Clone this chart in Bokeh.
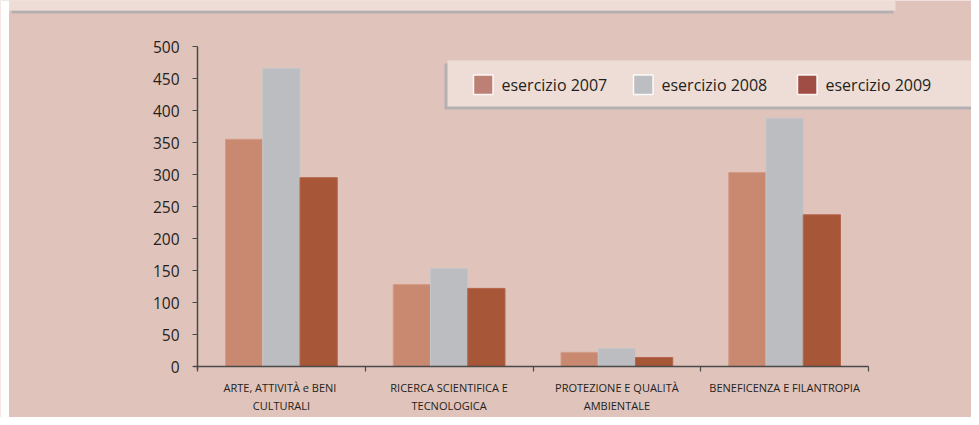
from bokeh.plotting import figure
from bokeh.models import Range1d, FixedTicker, BoxAnnotation, Label, ColumnDataSource
from bokeh.transform import dodge
from bokeh.embed import file_html
from bokeh.resources import INLINE

# ---- data ----
categories = [
    "ARTE, ATTIVITÀ  e BENI\nCULTURALI",
    "RICERCA SCIENTIFICA E\nTECNOLOGICA",
    "PROTEZIONE E QUALITÀ\nAMBIENTALE",
    "BENEFICENZA E FILANTROPIA",
]
series = ["esercizio 2007", "esercizio 2008", "esercizio 2009"]
v2007 = [355, 128, 22, 303]
v2008 = [466, 153, 28, 388]
v2009 = [295, 122, 14, 237]
y_ticks = [0, 50, 100, 150, 200, 250, 300, 350, 400, 450, 500]
y_max = 500

bar_colors = ["#C98870", "#BCBDC1", "#A85638"]
bar_edges = ["#D39B86", "#C6C7CA", "#B4654A"]
swatch_colors = ["#BD8075", "#BDBEC2", "#A04E45"]

BG = "#E0C3BB"
LIGHT = "#EDDDD6"
SHADOW = "#B4B0B2"
TXT = "#231F20"
AXIS = "#4A4A4A"
FONT = "Open Sans"

n = len(categories)
centers = [i + 0.5 for i in range(n)]
src = ColumnDataSource(dict(x=centers, v2007=v2007, v2008=v2008, v2009=v2009))

# ---- layout (pixels) ----
W, H = 971, 417
PL, PR, PT, PB = 197, 868, 46, 366   # plotting area where axes sit
sx = (PR - PL) / n
sy = (PB - PT) / y_max
x_range = Range1d(-PL / sx, (W - PL) / sx)
y_range = Range1d(-(H - PB) / sy, PB / sy)

p = figure(width=W, height=H, x_range=x_range, y_range=y_range,
           output_backend="svg", toolbar_location=None,
           min_border_left=0, min_border_right=0, min_border_top=0, min_border_bottom=0)
p.background_fill_color = BG
p.border_fill_color = BG
p.outline_line_color = None
p.xgrid.visible = False
p.ygrid.visible = False


def box(l, r, t, b, color, **kw):
    return BoxAnnotation(left=l, right=r, top=t, bottom=b, left_units="canvas", right_units="canvas",
                         top_units="canvas", bottom_units="canvas", fill_color=color, fill_alpha=1,
                         level="underlay", **kw)


# white page edge on the left
p.add_layout(box(0, 8.5, 0, H, "white", line_color=None))
# top decorative band
p.add_layout(box(11, 893, 10, 13, SHADOW, line_color=None))
p.add_layout(box(8.5, 895, 0, 10, LIGHT, line_color=None))

bw = 0.222
for k, col in enumerate(["v2007", "v2008", "v2009"]):
    p.vbar(x=dodge("x", (k - 1) * bw, range=p.x_range), top=col, width=bw, bottom=0, source=src,
           fill_color=bar_colors[k], line_color=bar_edges[k], line_width=1)

# y axis
ya = p.yaxis[0]
ya.fixed_location = 0
ya.bounds = (-3 / sy, y_max)
ya.ticker = FixedTicker(ticks=y_ticks)
ya.major_tick_out = 5
ya.major_tick_in = 0
ya.minor_tick_out = 0
ya.minor_tick_in = 0
ya.axis_line_color = AXIS
ya.axis_line_width = 1.5
ya.major_tick_line_color = AXIS
ya.major_tick_line_width = 1.2
ya.major_label_text_font = FONT
ya.major_label_text_font_size = "15.5px"
ya.major_label_text_color = TXT
ya.major_label_standoff = 13

# x axis
xa = p.xaxis[0]
xa.fixed_location = 0
xa.bounds = (-4 / sx, n)
xa.ticker = FixedTicker(ticks=centers, minor_ticks=list(range(n + 1)))
xa.major_label_overrides = {c: lab for c, lab in zip(centers, categories)}
xa.major_tick_out = 0
xa.major_tick_in = 0
xa.minor_tick_out = 5
xa.minor_tick_in = 0
xa.minor_tick_line_color = AXIS
xa.minor_tick_line_width = 1.2
xa.axis_line_color = AXIS
xa.axis_line_width = 1.5
xa.major_label_text_font = FONT
xa.major_label_text_font_size = "11px"
xa.major_label_text_color = TXT
xa.major_label_standoff = 8

# legend box
p.add_layout(box(444, W, 63, 109, SHADOW, line_color=None))
p.add_layout(box(447, W, 60, 106, LIGHT, line_color=None))
sw_left = [473, 633, 797]
tx_left = [501, 661, 825]
for k in range(3):
    sw = box(sw_left[k], sw_left[k] + 19.5, 74.5, 94, swatch_colors[k],
             line_color="white", line_width=1.5, line_alpha=0.9)
    sw.level = "annotation"
    p.add_layout(sw)
    p.add_layout(Label(x=tx_left[k], y=84, x_units="canvas", y_units="canvas", text=series[k],
                       text_baseline="middle", text_align="left", text_font=FONT,
                       text_font_size="16px", text_color=TXT))

open("out.html", "w").write(file_html(p, INLINE))
